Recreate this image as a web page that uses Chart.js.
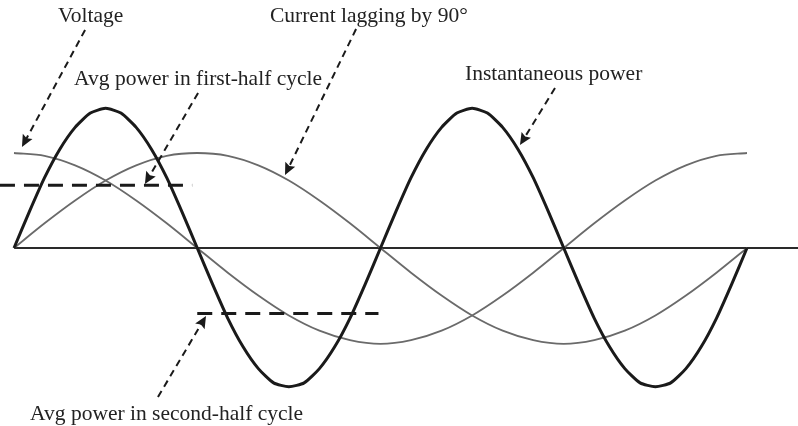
<!DOCTYPE html>
<html>
<head>
<meta charset="utf-8">
<script src="https://cdn.jsdelivr.net/npm/chart.js@4"></script>
<style>
  html, body { margin: 0; padding: 0; background: #fff; }
  #wrap { width: 798px; height: 426px; }
</style>
</head>
<body>
<div id="wrap"><canvas id="waveChart" width="798" height="426"></canvas></div>
<script>
// phase in degrees (one full cycle of voltage / current)
const phaseDeg = [0, 15, 30, 45, 60, 75, 90, 105, 120, 135, 150, 165, 180,
  195, 210, 225, 240, 255, 270, 285, 300, 315, 330, 345, 360];
const voltage = [1.00, 0.97, 0.87, 0.71, 0.50, 0.26, 0.00, -0.26, -0.50, -0.71, -0.87, -0.97, -1.01,
  -0.97, -0.87, -0.71, -0.50, -0.26, 0.00, 0.26, 0.50, 0.71, 0.87, 0.97, 1.00];
const current = [0.00, 0.26, 0.50, 0.71, 0.87, 0.97, 1.00, 0.97, 0.87, 0.71, 0.50, 0.26, 0.00,
  -0.26, -0.50, -0.71, -0.87, -0.97, -1.01, -0.97, -0.87, -0.71, -0.50, -0.26, 0.00];

// instantaneous power, read at finer steps (twice the frequency)
const powerDeg = [0, 7.5, 15, 22.5, 30, 37.5, 45, 52.5, 60, 67.5, 75, 82.5, 90,
  97.5, 105, 112.5, 120, 127.5, 135, 142.5, 150, 157.5, 165, 172.5, 180,
  187.5, 195, 202.5, 210, 217.5, 225, 232.5, 240, 247.5, 255, 262.5, 270,
  277.5, 285, 292.5, 300, 307.5, 315, 322.5, 330, 337.5, 345, 352.5, 360];
const power = [0.00, 0.38, 0.74, 1.04, 1.27, 1.42, 1.47, 1.42, 1.27, 1.04, 0.74, 0.38, 0.00,
  -0.38, -0.74, -1.04, -1.27, -1.42, -1.46, -1.42, -1.27, -1.04, -0.74, -0.38, 0.00,
  0.38, 0.74, 1.04, 1.27, 1.42, 1.47, 1.42, 1.27, 1.04, 0.74, 0.38, 0.00,
  -0.38, -0.74, -1.04, -1.27, -1.42, -1.46, -1.42, -1.27, -1.04, -0.74, -0.38, 0.00];

// average power levels and their spans
const avgFirstX = [-6.9, 87.5];
const avgFirst = [0.66, 0.66];
const avgSecondX = [90, 179];
const avgSecond = [-0.69, -0.69];

const axisX = [0, 385.1];
const axisY = [0, 0];

// annotation labels and arrows (data coordinates)
const labels = [
  { text: 'Voltage', x: 21.6, y: 2.38 },
  { text: 'Current lagging by 90°', x: 125.7, y: 2.38 },
  { text: 'Avg power in first-half cycle', x: 29.5, y: 1.716 },
  { text: 'Instantaneous power', x: 221.5, y: 1.768 },
  { text: 'Avg power in second-half cycle', x: 7.9, y: -1.811 }
];
const arrows = [
  { from: [34.9, 2.295], to: [3.9, 1.063] },
  { from: [90.4, 1.632], to: [64.3, 0.674] },
  { from: [168.0, 2.305], to: [133.1, 0.768] },
  { from: [265.7, 1.684], to: [248.5, 1.084] },
  { from: [70.7, -1.568], to: [94.3, -0.716] }
];

function pts(xs, ys) {
  return xs.map((x, i) => ({ x: x, y: ys[i] }));
}

const annotatePlugin = {
  id: 'annotate',
  afterDatasetsDraw(chart) {
    const ctx = chart.ctx;
    const xs = chart.scales.x, ys = chart.scales.y;
    ctx.save();
    ctx.strokeStyle = '#1a1a1a';
    ctx.fillStyle = '#1a1a1a';
    ctx.lineWidth = 2;
    arrows.forEach(a => {
      const x1 = xs.getPixelForValue(a.from[0]), y1 = ys.getPixelForValue(a.from[1]);
      const x2 = xs.getPixelForValue(a.to[0]), y2 = ys.getPixelForValue(a.to[1]);
      const ang = Math.atan2(y2 - y1, x2 - x1);
      const cos = Math.cos(ang), sin = Math.sin(ang);
      const head = 12;
      const bx = x2 - head * cos, by = y2 - head * sin;
      ctx.setLineDash([7, 5]);
      ctx.beginPath();
      ctx.moveTo(x1, y1);
      ctx.lineTo(x2 - 9 * cos, y2 - 9 * sin);
      ctx.stroke();
      ctx.setLineDash([]);
      ctx.beginPath();
      ctx.moveTo(x2, y2);
      ctx.lineTo(bx + 5.5 * sin, by - 5.5 * cos);
      ctx.lineTo(x2 - 10 * cos, y2 - 10 * sin);
      ctx.lineTo(bx - 5.5 * sin, by + 5.5 * cos);
      ctx.closePath();
      ctx.fill();
    });
    ctx.font = '21.5px "Liberation Serif", serif';
    ctx.fillStyle = '#222';
    ctx.textAlign = 'left';
    ctx.textBaseline = 'alphabetic';
    labels.forEach(l => {
      ctx.fillText(l.text, xs.getPixelForValue(l.x), ys.getPixelForValue(l.y));
    });
    ctx.restore();
  }
};

const ctx = document.getElementById('waveChart').getContext('2d');
new Chart(ctx, {
  type: 'line',
  data: {
    datasets: [
      {
        label: 'Avg power (first half)',
        data: pts(avgFirstX, avgFirst),
        borderColor: '#1a1a1a',
        borderWidth: 3,
        borderDash: [15, 9],
        pointRadius: 0
      },
      {
        label: 'Avg power (second half)',
        data: pts(avgSecondX, avgSecond),
        borderColor: '#1a1a1a',
        borderWidth: 3,
        borderDash: [15, 9],
        pointRadius: 0
      },
      {
        label: 'Instantaneous power',
        data: pts(powerDeg, power),
        borderColor: '#1a1a1a',
        borderWidth: 3,
        tension: 0.2,
        pointRadius: 0
      },
      {
        label: 'Voltage',
        data: pts(phaseDeg, voltage),
        borderColor: '#6a6a6a',
        borderWidth: 1.8,
        tension: 0.3,
        pointRadius: 0
      },
      {
        label: 'Current',
        data: pts(phaseDeg, current),
        borderColor: '#6a6a6a',
        borderWidth: 1.8,
        tension: 0.3,
        pointRadius: 0
      },
      {
        label: 'Axis',
        data: pts(axisX, axisY),
        borderColor: '#2a2a2a',
        borderWidth: 2,
        pointRadius: 0
      }
    ]
  },
  options: {
    responsive: false,
    animation: false,
    devicePixelRatio: 1,
    layout: { padding: 0 },
    plugins: {
      legend: { display: false },
      tooltip: { enabled: false }
    },
    scales: {
      x: { type: 'linear', min: -6.88, max: 385.05, display: false },
      y: { type: 'linear', min: -1.8737, max: 2.6105, display: false }
    }
  },
  plugins: [annotatePlugin]
});
</script>
</body>
</html>
